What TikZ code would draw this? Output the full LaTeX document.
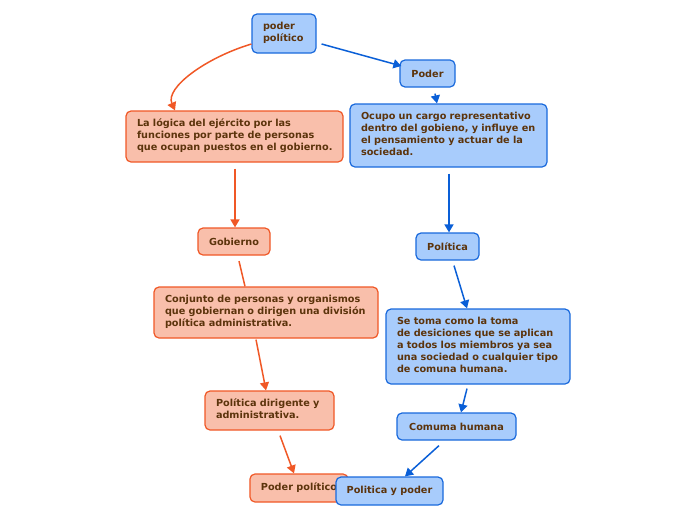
\documentclass[tikz,border=0pt]{standalone}
\usepackage{fontspec}
\setmainfont{DejaVu Sans}
\usetikzlibrary{arrows.meta}
\definecolor{bfill}{RGB}{168,204,252}
\definecolor{bdraw}{RGB}{25,105,220}
\definecolor{barrow}{RGB}{10,95,215}
\definecolor{ofill}{RGB}{249,191,171}
\definecolor{odraw}{RGB}{240,88,38}
\definecolor{txt}{RGB}{92,52,12}
\newcommand{\lns}[1]{\raisebox{-1.5pt}{\begin{tabular}{@{}l@{}}#1\end{tabular}}}
\tikzset{
  box/.style={rounded corners=5pt, line width=1.2pt, inner xsep=11pt, inner ysep=0pt,
    font=\fontsize{9.7}{12}\selectfont\bfseries, text=txt, anchor=center},
  bluebox/.style={box, draw=bdraw, fill=bfill},
  orangebox/.style={box, draw=odraw, fill=ofill},
  bconn/.style={draw=barrow, line width=1.5pt, -{Triangle[length=8pt,width=9pt]}},
  oconn/.style={draw=odraw, line width=1.5pt, -{Triangle[length=8pt,width=9pt]}},
  oline/.style={draw=odraw, line width=1.5pt}
}
\begin{document}
\begin{tikzpicture}[x=1pt,y=-1pt]
\useasboundingbox (0,0) rectangle (696,520);
% blue nodes
\node[bluebox, minimum width=64pt, minimum height=39pt, text width=42pt, align=left] (pp) at (284,33.5) {\lns{poder\\político}};
\node[bluebox, minimum width=55pt, minimum height=27pt] (poder) at (427.5,73.5) {Poder};
\node[bluebox, minimum width=197pt, minimum height=63pt, text width=175pt, align=left] (ocupo) at (448.5,135.5) {\lns{Ocupo un cargo representativo\\dentro del gobieno, y influye en\\el pensamiento y actuar de la\\sociedad.}};
\node[bluebox, minimum width=63pt, minimum height=27pt] (politica) at (447.5,246.5) {Política};
\node[bluebox, minimum width=184pt, minimum height=75pt, text width=162pt, align=left] (setoma) at (478,346.5) {\lns{Se toma como la toma\\de desiciones que se aplican\\a todos los miembros ya sea\\una sociedad o cualquier tipo\\de comuna humana.}};
\node[bluebox, minimum width=119pt, minimum height=27pt] (comuma) at (456.5,426.5) {Comuma humana};
% orange nodes
\node[orangebox, minimum width=217pt, minimum height=51pt, text width=195pt, align=left] (logica) at (234.5,136.5) {\lns{La lógica del ejército por las\\funciones por parte de personas\\que ocupan puestos en el gobierno.}};
\node[orangebox, minimum width=72pt, minimum height=27pt] (gob) at (234,241.5) {Gobierno};
\node[orangebox, minimum width=224pt, minimum height=51pt, text width=202pt, align=left] (conj) at (266,312.5) {\lns{Conjunto de personas y organismos\\que gobiernan o dirigen una división\\política administrativa.}};
\node[orangebox, minimum width=129pt, minimum height=39pt, text width=107pt, align=left] (pdir) at (269.5,410.5) {\lns{Política dirigente y\\administrativa.}};
\node[orangebox, minimum width=98pt, minimum height=28pt] (ppo) at (299,488) {Poder político};
\node[bluebox, minimum width=107pt, minimum height=28pt, inner xsep=4pt] (pyp) at (389.5,491) {Politica y poder};
% connectors
\draw[bconn] ([xshift=5pt,yshift=-10.5pt]pp.east) -- ([xshift=2pt,yshift=7.5pt]poder.west);
\draw[bconn] ([xshift=7.5pt,yshift=-6pt]poder.south) -- ([xshift=-11.5pt]ocupo.north);
\draw[bconn] ([xshift=0.5pt,yshift=-6pt]ocupo.south) -- ([xshift=1.5pt]politica.north);
\draw[bconn] ([xshift=6.5pt,yshift=-5pt]politica.south) -- ([xshift=-11pt]setoma.north);
\draw[bconn] ([xshift=-11pt,yshift=-4pt]setoma.south) -- ([xshift=4.5pt]comuma.north);
\draw[bconn] ([xshift=-17.5pt,yshift=-5pt]comuma.south) -- ([xshift=15.5pt]pyp.north);
\draw[oconn] ([yshift=-10.5pt]pp.west) .. controls (205,58) and (165,88) .. ([xshift=-59.5pt]logica.north);
\draw[oconn] ([xshift=0.5pt,yshift=-6pt]logica.south) -- ([xshift=1pt]gob.north);
\draw[oline] ([xshift=5pt,yshift=-5.5pt]gob.south) -- ([xshift=-21pt]conj.north);
\draw[oconn] ([xshift=-10pt,yshift=-1pt]conj.south) -- ([xshift=-3.5pt]pdir.north);
\draw[oconn] ([xshift=10.5pt,yshift=-5pt]pdir.south) -- ([xshift=-5pt]ppo.north);
\end{tikzpicture}
\end{document}
